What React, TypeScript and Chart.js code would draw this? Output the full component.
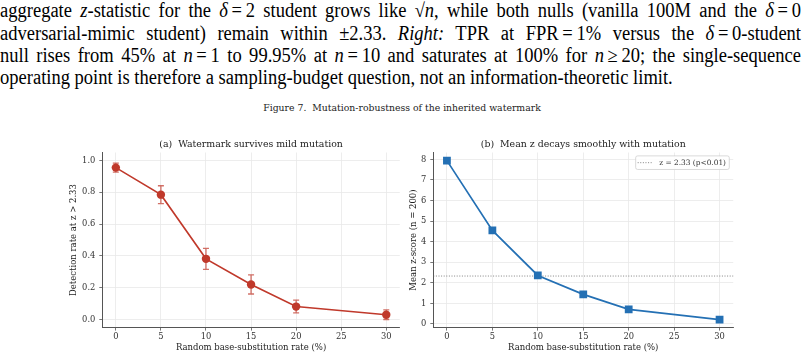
import React, { useEffect, useRef } from "react";
import { Chart, registerables } from "chart.js";

Chart.register(...registerables);

// Substitution rates (%) at which the watermark was tested
const substitutionRates = [0, 5, 10, 15, 20, 30];
const xTickValues = [0, 5, 10, 15, 20, 25, 30];

// (a) detection rate at z > 2.33 with its error half-widths
const detectionRate = [0.955, 0.785, 0.382, 0.221, 0.082, 0.031];
const detectionErr = [0.028, 0.056, 0.066, 0.06, 0.04, 0.03];
const detectionTicks = [0, 0.2, 0.4, 0.6, 0.8, 1.0];

// (b) mean z-score over n = 200 sequences
const meanZ = [7.94, 4.55, 2.36, 1.44, 0.71, 0.21];
const zTicks = [0, 1, 2, 3, 4, 5, 6, 7, 8];
const zThreshold = 2.33;

const SERIF = "'DejaVu Serif', serif";
const RED = "#c0392b";
const RED_ERR = "rgba(192,57,43,0.72)";
const BLUE = "#2470b4";

const CANVAS_W_LEFT = 404;
const CANVAS_W_RIGHT = 400;
const CANVAS_H = 229;

const errorBarPlugin = {
  id: "errorBars",
  beforeDatasetsDraw(chart: any) {
    const { ctx, scales } = chart;
    const x = scales.x;
    const y = scales.y;
    ctx.save();
    ctx.strokeStyle = RED_ERR;
    ctx.lineWidth = 1.3;
    substitutionRates.forEach((r, i) => {
      const px = x.getPixelForValue(r);
      const top = y.getPixelForValue(detectionRate[i] + detectionErr[i]);
      const bot = y.getPixelForValue(detectionRate[i] - detectionErr[i]);
      ctx.beginPath();
      ctx.moveTo(px, top);
      ctx.lineTo(px, bot);
      ctx.moveTo(px - 3, top);
      ctx.lineTo(px + 3, top);
      ctx.moveTo(px - 3, bot);
      ctx.lineTo(px + 3, bot);
      ctx.stroke();
    });
    ctx.restore();
  },
};

const thresholdPlugin = {
  id: "threshold",
  beforeDatasetsDraw(chart: any) {
    const { ctx, chartArea, scales } = chart;
    const py = scales.y.getPixelForValue(zThreshold);
    ctx.save();
    ctx.strokeStyle = "#666";
    ctx.lineWidth = 0.8;
    ctx.setLineDash([1, 1.6]);
    ctx.beginPath();
    ctx.moveTo(chartArea.left, py);
    ctx.lineTo(chartArea.right, py);
    ctx.stroke();
    ctx.restore();
  },
  afterDraw(chart: any) {
    const { ctx, chartArea } = chart;
    const label = "z = 2.33 (p<0.01)";
    ctx.save();
    ctx.font = `7.4px ${SERIF}`;
    const tw = ctx.measureText(label).width;
    const h = 13.6;
    const w = 23.6 + tw + 3.3;
    const right = chartArea.right - 3.9;
    const left = right - w;
    const top = chartArea.top + 3.4;
    ctx.fillStyle = "rgba(255,255,255,0.85)";
    ctx.strokeStyle = "#cfcfcf";
    ctx.lineWidth = 0.8;
    ctx.beginPath();
    ctx.roundRect(left, top, w, h, 2);
    ctx.fill();
    ctx.stroke();
    const cy = top + h / 2;
    ctx.strokeStyle = "#666";
    ctx.setLineDash([1, 1.6]);
    ctx.beginPath();
    ctx.moveTo(left + 2, cy);
    ctx.lineTo(left + 16.6, cy);
    ctx.stroke();
    ctx.fillStyle = "#333";
    ctx.textBaseline = "middle";
    ctx.fillText(label, left + 23.6, cy + 0.3);
    ctx.restore();
  },
};

function axisX(height: number) {
  return {
    type: "linear" as const,
    min: -1.5,
    max: 31.5,
    afterBuildTicks: (s: any) => {
      s.ticks = xTickValues.map((value) => ({ value }));
    },
    afterFit: (s: any) => {
      s.height = height;
    },
    ticks: {
      font: { family: SERIF, size: 8.3 },
      color: "#333",
      padding: 1,
      maxRotation: 0,
      callback: (v: any) => String(v),
    },
    grid: { color: "#e8e8e8", lineWidth: 0.8, tickLength: 3, tickColor: "#555" },
    border: { display: true, color: "#555", width: 1 },
    title: {
      display: true,
      text: "Random base-substitution rate (%)",
      font: { family: SERIF, size: 8.5 },
      color: "#222",
      padding: 0,
    },
  };
}

function axisY(
  min: number,
  max: number,
  tickVals: number[],
  width: number,
  label: string,
  fmt: (v: number) => string
) {
  return {
    type: "linear" as const,
    min,
    max,
    afterBuildTicks: (s: any) => {
      s.ticks = tickVals.map((value) => ({ value }));
    },
    afterFit: (s: any) => {
      s.width = width;
    },
    ticks: {
      font: { family: SERIF, size: 8.3 },
      color: "#333",
      padding: 4,
      callback: (v: any) => fmt(Number(v)),
    },
    grid: { color: "#e8e8e8", lineWidth: 0.8, tickLength: 3, tickColor: "#555" },
    border: { display: true, color: "#555", width: 1 },
    title: {
      display: true,
      text: label,
      font: { family: SERIF, size: 8.5 },
      color: "#222",
      padding: 0,
    },
  };
}

function titleOpts(text: string) {
  return {
    display: true,
    text,
    font: { family: SERIF, size: 9.4, weight: "normal" as const },
    color: "#222",
    padding: { top: 0, bottom: 2.5 },
    fullSize: false,
  };
}

function DetectionChart() {
  const ref = useRef<HTMLCanvasElement | null>(null);
  useEffect(() => {
    if (!ref.current) return;
    const chart = new Chart(ref.current, {
      type: "line",
      data: {
        datasets: [
          {
            data: substitutionRates.map((x, i) => ({ x, y: detectionRate[i] })),
            borderColor: RED,
            backgroundColor: RED,
            borderWidth: 1.6,
            pointRadius: 4.2,
            pointBorderWidth: 0,
            pointHoverRadius: 4.2,
            tension: 0,
          },
        ],
      },
      options: {
        animation: false,
        responsive: false,
        devicePixelRatio: 1,
        layout: { padding: { left: 68.9, right: 2.3, top: 8.7, bottom: 5.9 } },
        scales: {
          x: axisX(25.5),
          y: axisY(-0.05, 1.05, detectionTicks, 33.4, "Detection rate at z > 2.33", (v) =>
            v.toFixed(1)
          ),
        },
        plugins: {
          legend: { display: false },
          tooltip: { enabled: false },
          title: titleOpts("(a)  Watermark survives mild mutation"),
        },
      },
      plugins: [errorBarPlugin],
    } as any);
    return () => chart.destroy();
  }, []);
  return (
    <canvas
      ref={ref}
      width={CANVAS_W_LEFT}
      height={CANVAS_H}
      style={{ position: "absolute", left: 0, top: 130, width: CANVAS_W_LEFT, height: CANVAS_H }}
    />
  );
}

function MeanZChart() {
  const ref = useRef<HTMLCanvasElement | null>(null);
  useEffect(() => {
    if (!ref.current) return;
    const chart = new Chart(ref.current, {
      type: "line",
      data: {
        datasets: [
          {
            data: substitutionRates.map((x, i) => ({ x, y: meanZ[i] })),
            borderColor: BLUE,
            backgroundColor: BLUE,
            borderWidth: 1.7,
            pointStyle: "rect",
            pointRadius: 5.5,
            pointBorderWidth: 0,
            pointHoverRadius: 5.5,
            tension: 0,
          },
        ],
      },
      options: {
        animation: false,
        responsive: false,
        devicePixelRatio: 1,
        layout: { padding: { left: 4.9, right: 70.8, top: 8.7, bottom: 5.9 } },
        scales: {
          x: axisX(25.5),
          y: axisY(-0.177, 8.337, zTicks, 24.4, "Mean z-score (n = 200)", (v) =>
            String(Math.round(v))
          ),
        },
        plugins: {
          legend: { display: false },
          tooltip: { enabled: false },
          title: titleOpts("(b)  Mean z decays smoothly with mutation"),
        },
      },
      plugins: [thresholdPlugin],
    } as any);
    return () => chart.destroy();
  }, []);
  return (
    <canvas
      ref={ref}
      width={CANVAS_W_RIGHT}
      height={CANVAS_H}
      style={{ position: "absolute", left: 404, top: 130, width: CANVAS_W_RIGHT, height: CANVAS_H }}
    />
  );
}

// Paragraph set in a tall, slightly condensed Times face
const LINE_H = 22.3;
const TEXT_SCALE_X = 0.926;
const TEXT_W = 801 / TEXT_SCALE_X;

function Eq({ children }: { children: React.ReactNode }) {
  return <span style={{ margin: "0 0.2em" }}>{children}</span>;
}

function Sqrt({ children }: { children: React.ReactNode }) {
  return (
    <span style={{ whiteSpace: "nowrap" }}>
      √
      <span style={{ borderTop: "1px solid #000", paddingTop: 1 }}>{children}</span>
    </span>
  );
}

function TextLine({ index, justify, children }: { index: number; justify: boolean; children: React.ReactNode }) {
  return (
    <div
      style={{
        position: "absolute",
        left: 0,
        top: index * LINE_H - 0.8,
        width: TEXT_W,
        height: LINE_H,
        lineHeight: `${LINE_H}px`,
        whiteSpace: "nowrap",
        textAlign: justify ? "justify" : "left",
        textAlignLast: justify ? "justify" : "left",
      }}
    >
      {children}
    </div>
  );
}

export default function App() {
  return (
    <div
      style={{
        position: "fixed",
        left: 0,
        top: 0,
        width: 804,
        height: 359,
        overflow: "hidden",
        background: "#fff",
      }}
    >
      <div
        style={{
          position: "absolute",
          left: 0,
          top: 0,
          width: TEXT_W,
          transform: `scaleX(${TEXT_SCALE_X})`,
          transformOrigin: "0 0",
          fontFamily: "'Liberation Serif', 'Times New Roman', serif",
          fontSize: 20,
          color: "#000",
        }}
      >
        <TextLine index={0} justify>
          aggregate <i>z</i>-statistic for the <i>δ</i>
          <Eq>=</Eq>2 student grows like <Sqrt><i>n</i></Sqrt>, while both nulls (vanilla 100M and the <i>δ</i>
          <Eq>=</Eq>0
        </TextLine>
        <TextLine index={1} justify>
          adversarial-mimic student) remain within ±2.33. <i>Right:</i> TPR at FPR<Eq>=</Eq>1% versus the <i>δ</i>
          <Eq>=</Eq>0-student
        </TextLine>
        <TextLine index={2} justify>
          null rises from 45% at <i>n</i>
          <Eq>=</Eq>1 to 99.95% at <i>n</i>
          <Eq>=</Eq>10 and saturates at 100% for <i>n</i>
          <Eq>≥</Eq>20; the single-sequence
        </TextLine>
        <TextLine index={3} justify={false}>
          operating point is therefore a sampling-budget question, not an information-theoretic limit.
        </TextLine>
      </div>
      <div
        style={{
          position: "absolute",
          left: 0,
          top: 102,
          width: 804,
          textAlign: "center",
          fontFamily: SERIF,
          fontSize: 9.3,
          lineHeight: "12px",
          color: "#222",
          whiteSpace: "pre",
        }}
      >
        {"Figure 7.  Mutation-robustness of the inherited watermark"}
      </div>
      <DetectionChart />
      <MeanZChart />
    </div>
  );
}
